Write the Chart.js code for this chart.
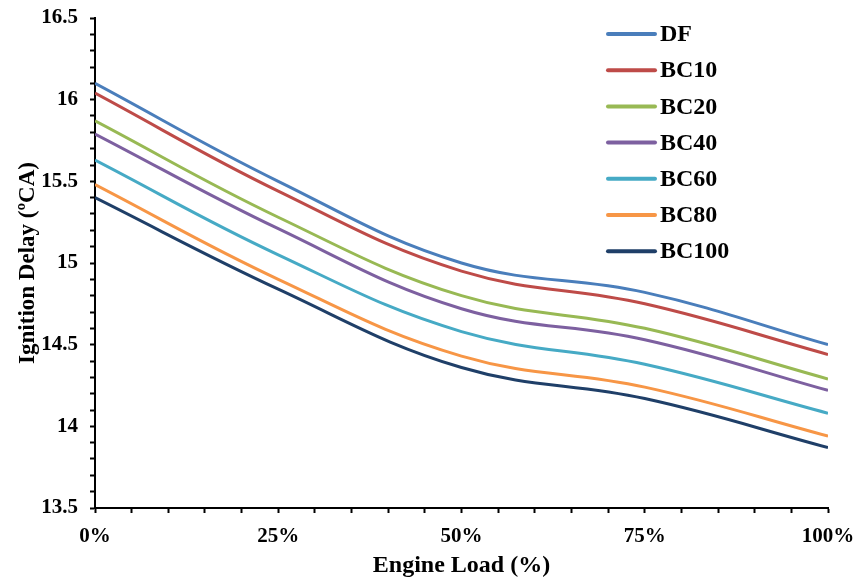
<!DOCTYPE html>
<html>
<head>
<meta charset="utf-8">
<script src="https://cdn.jsdelivr.net/npm/chart.js@4/dist/chart.umd.min.js"></script>
<style>
  html, body { margin: 0; padding: 0; background: #fff; }
  #wrap { width: 855px; height: 580px; }
</style>
</head>
<body>
<div id="wrap"><canvas id="myChart"></canvas></div>
<script>
// engine load points (%) and ignition delay (deg CA)
var loads = [0, 25, 50, 75, 100];
var seriesNames = ["DF", "BC10", "BC20", "BC40", "BC60", "BC80", "BC100"];
var seriesColors = ["#4A7EBB", "#BE4B48", "#98B954", "#7D60A0", "#46AAC5", "#F79646", "#1F3F68"];

var DF    = [16.10, 15.50, 15.00, 14.82, 14.50];
var BC10  = [16.04, 15.44, 14.95, 14.75, 14.44];
var BC20  = [15.87, 15.28, 14.80, 14.60, 14.29];
var BC40  = [15.79, 15.21, 14.72, 14.53, 14.22];
var BC60  = [15.63, 15.05, 14.58, 14.38, 14.08];
var BC80  = [15.48, 14.90, 14.43, 14.24, 13.94];
var BC100 = [15.40, 14.84, 14.36, 14.17, 13.87];
var allSeries = [DF, BC10, BC20, BC40, BC60, BC80, BC100];

var yMin = 13.5, yMax = 16.5;
var serif = "'Liberation Serif', 'Times New Roman', serif";

var datasets = [];
for (var i = 0; i < allSeries.length; i = i + 1) {
  var pts = [];
  for (var j = 0; j < loads.length; j = j + 1) {
    pts.push({ x: loads[j], y: allSeries[i][j] });
  }
  datasets.push({
    label: seriesNames[i],
    data: pts,
    borderColor: seriesColors[i],
    backgroundColor: seriesColors[i],
    borderWidth: 3,
    pointRadius: 0,
    tension: 0.4,
    fill: false
  });
}

// legend drawn inside the plot, top right, like the original
var insideLegend = {
  id: 'insideLegend',
  afterDraw: function (chart) {
    var ctx = chart.ctx;
    var area = chart.chartArea;
    var x0 = area.right - 220;
    var y0 = area.top + 16;
    ctx.save();
    ctx.font = "bold 24px " + serif;
    ctx.textBaseline = 'middle';
    ctx.fillStyle = '#000';
    chart.data.datasets.forEach(function (ds, k) {
      var y = y0 + k * 36.2;
      ctx.strokeStyle = ds.borderColor;
      ctx.lineWidth = 4;
      ctx.lineCap = 'round';
      ctx.beginPath();
      ctx.moveTo(x0, y);
      ctx.lineTo(x0 + 47, y);
      ctx.stroke();
      ctx.fillText(ds.label, x0 + 52, y + 1);
    });
    ctx.restore();
  }
};

new Chart(document.getElementById("myChart"), {
  type: 'line',
  data: { datasets: datasets },
  plugins: [insideLegend],
  options: {
    responsive: true,
    maintainAspectRatio: false,
    animation: false,
    layout: { padding: { top: 18, right: 27, left: 14, bottom: 0 } },
    plugins: {
      legend: { display: false },
      tooltip: { enabled: false }
    },
    scales: {
      x: {
        type: 'linear',
        min: 0,
        max: 100,
        afterFit: function (s) { s.height = 72; s.paddingLeft = 0; s.paddingRight = 0; },
        ticks: {
          stepSize: 5,
          autoSkip: false,
          maxRotation: 0,
          color: '#000',
          font: { family: serif, size: 21, weight: 'bold' },
          padding: 11,
          callback: function (v) { return v % 25 === 0 ? v + '%' : ''; }
        },
        grid: { drawOnChartArea: false, drawTicks: true, tickLength: 5, color: '#000', tickWidth: 2 },
        border: { color: '#000', width: 2 },
        title: {
          display: true,
          text: 'Engine Load (%)',
          color: '#000',
          font: { family: serif, size: 24, weight: 'bold' },
          padding: { top: 0, bottom: 0 }
        }
      },
      y: {
        min: yMin,
        max: yMax,
        afterFit: function (s) { s.width = 81; s.paddingTop = 0; s.paddingBottom = 0; },
        ticks: {
          stepSize: 0.1,
          autoSkip: false,
          color: '#000',
          font: { family: serif, size: 21, weight: 'bold' },
          padding: 12,
          callback: function (v) {
            var t = Math.round(v * 10);
            return t % 5 === 0 ? String(t / 10) : '';
          }
        },
        grid: { drawOnChartArea: false, drawTicks: true, tickLength: 5, color: '#000', tickWidth: 2 },
        border: { color: '#000', width: 2 },
        title: {
          display: true,
          text: 'Ignition Delay (ºCA)',
          color: '#000',
          font: { family: serif, size: 23, weight: 'bold' },
          padding: { top: 0, bottom: 0 }
        }
      }
    }
  }
});
</script>
</body>
</html>
